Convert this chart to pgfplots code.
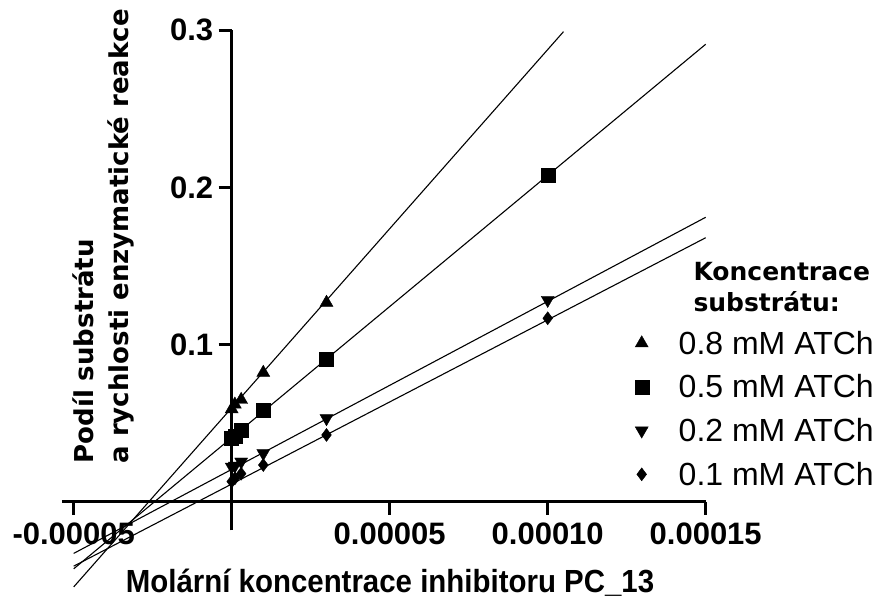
\documentclass[border=0pt]{standalone}
\usepackage{fontspec}
\setmainfont{Liberation Sans}
\newfontfamily\dejavu{DejaVu Sans}
\usepackage{graphicx}
\usepackage{pgfplots}
\pgfplotsset{compat=1.18}

\begin{document}
\begin{tikzpicture}
\begin{axis}[
  scale only axis, width=643.7pt, height=500.2pt,
  xmin=-0.0000537, xmax=0.00015, ymin=-0.018, ymax=0.3,
  axis x line=middle, axis y line=middle,
  axis line style={line width=3pt,-},
  clip=false,
  xtick={-0.00005,0.00005,0.0001,0.00015},
  xticklabels={-0.00005,0.00005,0.00010,0.00015},
  ytick={0.1,0.2,0.3}, yticklabels={0.1,0.2,0.3},
  scaled x ticks=false, scaled y ticks=false,
  tick align=outside, major tick length=13pt,
  every tick/.style={black,line width=3pt},
  tick label style={font=\bfseries\fontsize{31}{31}\selectfont},
  xticklabel style={yshift=-4pt},
  yticklabel style={xshift=-2pt},
  legend cell align=left,
  legend style={at={(axis description cs:0.8894,0.3984)}, anchor=north west,
    draw=none, fill=none, inner sep=0pt, row sep=19.7pt, column sep=30pt,
    font=\fontsize{32}{32}\selectfont,
    nodes={inner sep=0pt, text height=23pt, text depth=1pt}},
]
% fitted lines
\addplot[black, line width=1.1pt, forget plot] coordinates {(-0.00005,-0.054)(0.000105,0.299)};
\addplot[black, line width=1.1pt, forget plot] coordinates {(-0.00005,-0.0425)(0.00015,0.291)};
\addplot[black, line width=1.1pt, forget plot] coordinates {(-0.00005,-0.0327)(0.00015,0.181)};
\addplot[black, line width=1.1pt, forget plot] coordinates {(-0.00005,-0.0408)(0.00015,0.168)};
% measured points
\addplot[black, only marks, mark=triangle*, mark size=7.5pt] coordinates {
(0,0.059)(0.000001,0.062)(0.000003,0.065)(0.00001,0.0822)(0.00003,0.1267)};
\addlegendentry{0.8 mM ATCh}
\addplot[black, only marks, mark=square*, mark size=7pt] coordinates {
(0,0.0405)(0.000001,0.042)(0.000003,0.0458)(0.00001,0.0585)(0.00003,0.0907)(0.0001,0.2079)};
\addlegendentry{0.5 mM ATCh}
\addplot[black, only marks, mark=triangle*, mark size=7.5pt, mark options={rotate=180}] coordinates {
(0,0.0224)(0.000001,0.023)(0.000003,0.0256)(0.00001,0.031)(0.00003,0.0532)(0.0001,0.1284)};
\addlegendentry{0.2 mM ATCh}
\addplot[black, only marks, mark=diamond*, mark size=6.5pt] coordinates {
(0,0.013)(0.000001,0.015)(0.000003,0.018)(0.00001,0.0235)(0.00003,0.0426)(0.0001,0.1168)};
\addlegendentry{0.1 mM ATCh}

\node[rotate=90, anchor=west, align=left, font=\dejavu\bfseries\fontsize{26}{35}\selectfont]
  at (axis description cs:0.0637,0.1266) {Podíl substrátu\\a rychlosti enzymatické reakce};
\node[anchor=center, font=\bfseries\fontsize{32}{32}\selectfont]
  at (axis description cs:0.5096,-0.1054) {\scalebox{0.92}[1]{Molární koncentrace inhibitoru PC\_13}};
\node[anchor=west, align=left, font=\dejavu\bfseries\fontsize{25}{31}\selectfont]
  at (axis description cs:0.9756,0.4854) {Koncentrace\\substrátu:};
\coordinate (sw) at (rel axis cs:0,0);
\end{axis}
\pgfresetboundingbox
\path (sw) ++(-62pt,-76.7pt) rectangle ++(885pt,607pt);
\end{tikzpicture}
\end{document}
